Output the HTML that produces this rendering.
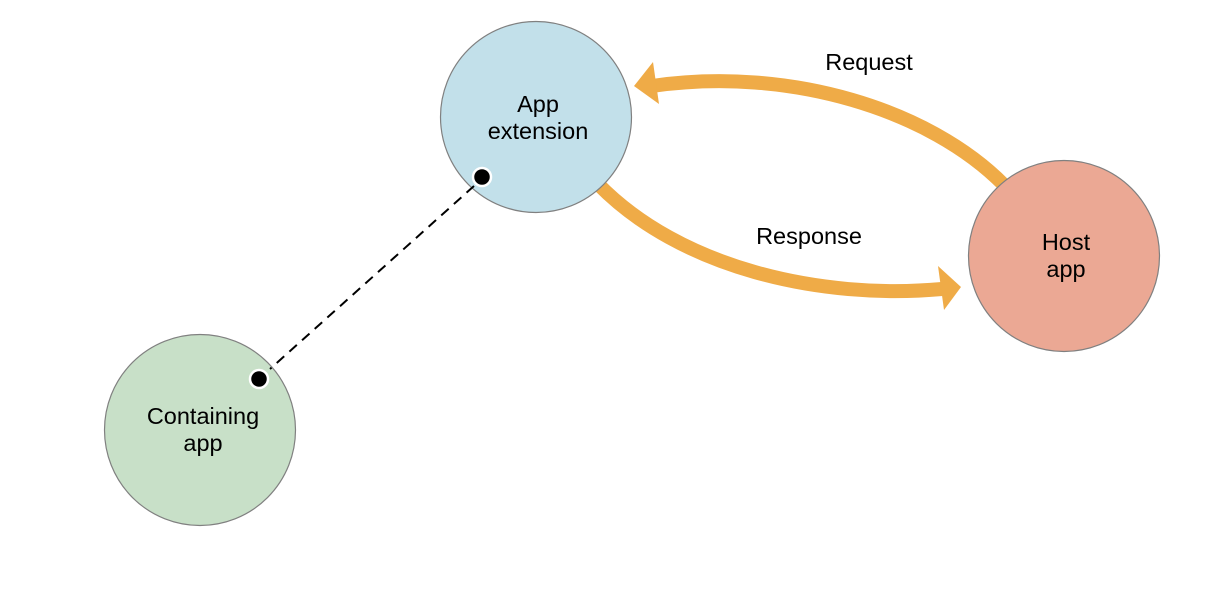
<!DOCTYPE html>
<html><head><style>html,body{margin:0;padding:0;background:#fff}svg{display:block}</style></head>
<body>
<svg width="1222" height="598" viewBox="0 0 1222 598" xmlns="http://www.w3.org/2000/svg" font-family="Liberation Sans, sans-serif" font-size="23.5">
<rect width="1222" height="598" fill="#fff"/>
<path d="M1004,185 C930,110 790,66 652,86" fill="none" stroke="#EFAB47" stroke-width="14"/>
<polygon points="634,86 653,62 659,104" fill="#EFAB47"/>
<path d="M598,184 C680,268 820,300 942,289" fill="none" stroke="#EFAB47" stroke-width="14"/>
<polygon points="961,287 938,266 944,310" fill="#EFAB47"/>
<circle cx="536" cy="117" r="95.5" fill="#C2E0EA" stroke="#808080" stroke-width="1.2"/>
<circle cx="1064" cy="256" r="95.5" fill="#EBA894" stroke="#808080" stroke-width="1.2"/>
<circle cx="200" cy="430" r="95.5" fill="#C8E0C8" stroke="#808080" stroke-width="1.2"/>
<line x1="474" y1="186" x2="270" y2="369" stroke="#000" stroke-width="2" stroke-dasharray="10,7"/>
<circle cx="482" cy="177" r="9" fill="#000" stroke="#fff" stroke-width="2.5"/>
<circle cx="259" cy="379" r="9" fill="#000" stroke="#fff" stroke-width="2.5"/>
<g text-anchor="middle" fill="#000">
<text x="538" y="112">App</text>
<text x="538" y="139">extension</text>
<text x="1066" y="250">Host</text>
<text x="1066" y="277">app</text>
<text x="203" y="424">Containing</text>
<text x="203" y="451">app</text>
<text x="869" y="70">Request</text>
<text x="809" y="244">Response</text>
</g>
</svg>
</body></html>
